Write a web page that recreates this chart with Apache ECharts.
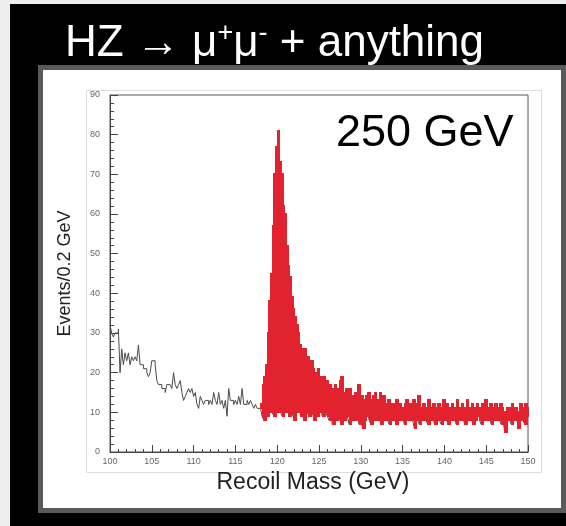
<!DOCTYPE html>
<html>
<head>
<meta charset="utf-8">
<script src="https://cdn.jsdelivr.net/npm/echarts@6/dist/echarts.min.js"></script>
<style>
  html, body { margin: 0; padding: 0; background: #000; }
  #chart { width: 566px; height: 526px; }
</style>
</head>
<body>
<div id="chart"></div>
<script>
// recoil mass histogram, 0.2 GeV bins between 100 and 150 GeV
const massMin = 100
const massMax = 150
const binWidth = 0.2

// background, one value per bin (250 bins) - black line
const background = [
  32, 30, 29, 30, 30, 31, 20, 26, 22, 25,
  23, 25, 22, 24, 23, 24, 23, 27, 22, 22,
  21, 21, 20, 19, 20, 23, 23, 22, 18, 17,
  17, 16, 16, 15, 17, 17, 17, 16, 20, 17,
  16, 17, 18, 15, 13, 14, 15, 16, 15, 16,
  14, 15, 12, 11, 14, 13, 12, 13, 13, 12,
  13, 12, 15, 13, 12, 15, 12, 13, 11, 13,
  9, 16, 13, 13, 12, 13, 12, 14, 12, 16,
  12, 12, 13, 12, 13, 12, 11, 12, 11, 11,
  11, 9, 8, 10, 9, 10, 12, 10, 9, 11,
  10, 12, 10, 9, 12, 10, 11, 9, 12, 10,
  8, 11, 10, 12, 9, 10, 8, 11, 10, 9,
  11, 10, 8, 12, 9, 10, 11, 9, 12, 10,
  9, 8, 10, 7, 9, 8, 10, 9, 7, 9,
  8, 10, 9, 7, 9, 8, 10, 8, 9, 7,
  9, 6, 8, 9, 10, 8, 7, 9, 8, 10,
  8, 9, 7, 9, 8, 10, 8, 7, 9, 8,
  9, 7, 8, 10, 8, 9, 7, 8, 9, 8,
  10, 8, 6, 9, 8, 7, 9, 8, 10, 8,
  7, 9, 8, 10, 7, 8, 9, 8, 7, 9,
  8, 9, 7, 8, 10, 8, 9, 7, 8, 9,
  8, 10, 7, 9, 8, 8, 9, 7, 8, 9,
  9, 8, 7, 9, 8, 10, 8, 9, 7, 8,
  9, 8, 10, 8, 7, 9, 5, 8, 9, 8,
  7, 9, 8, 10, 6, 8, 9, 8, 7, 9
]

// signal + background from 118 GeV on (bins 90..249) - red, filled down to the background
const signalFirstBin = 90
const signalPlusBkg = [
  12, 17, 19, 22, 30, 38, 45, 57, 70, 77,
  81, 73, 70, 62, 60, 52, 47, 44, 39, 36,
  34, 32, 30, 27, 26, 25, 26, 23, 24, 22,
  23, 21, 20, 19, 21, 19, 18, 19, 17, 18,
  16, 17, 15, 16, 17, 15, 16, 18, 19, 15,
  14, 16, 15, 16, 14, 13, 15, 14, 17, 13,
  14, 13, 12, 14, 15, 13, 12, 14, 15, 12,
  13, 15, 12, 14, 11, 12, 13, 11, 12, 11,
  12, 13, 11, 12, 11, 10, 12, 13, 11, 12,
  11, 13, 11, 12, 14, 11, 10, 12, 11, 11,
  13, 11, 10, 12, 11, 10, 12, 11, 11, 13,
  11, 12, 11, 10, 12, 11, 10, 13, 11, 10,
  12, 11, 10, 13, 11, 10, 12, 11, 10, 12,
  11, 10, 12, 11, 13, 10, 11, 12, 10, 11,
  12, 10, 11, 12, 11, 10, 10, 11, 10, 11,
  12, 10, 11, 10, 10, 12, 11, 10, 12, 11
]

const titleRich = '{n|HZ \u2192 \u03bc}{s|+}{n|\u03bc}{s|-}{n| + anything}'
const energyLabel = '250 GeV'
const xName = 'Recoil Mass (GeV)'
const yName = 'Events/0.2 GeV'

const red = '#e2222f'
const font = 'Liberation Sans, Arial, Helvetica, sans-serif'

// black step line: left edge of every bin, plus the closing edge at 150
const bkgLine = background.map((v, i) => [massMin + i * binWidth, v])
bkgLine.push([massMax, background[background.length - 1]])

// red band between background and signal+background
const band = signalPlusBkg.map((v, k) => {
  const i = signalFirstBin + k
  return [massMin + i * binWidth, background[i], v]
})

const chart = echarts.init(document.getElementById('chart'))
chart.setOption({
  backgroundColor: '#000',
  animation: false,
  graphic: [
    { type: 'rect', z: -20, shape: { x: 0, y: 0, width: 10, height: 526 }, style: { fill: '#eeeeec' } },
    { type: 'rect', z: -20, shape: { x: 0, y: 0, width: 566, height: 4 }, style: { fill: '#eeeeec' } },
    { type: 'rect', z: -15, shape: { x: 40.5, y: 67.5, width: 523, height: 443 },
      style: { fill: '#fff', stroke: '#5a5a5a', lineWidth: 5 } },
    { type: 'rect', z: -12, shape: { x: 86.5, y: 90.5, width: 455, height: 382 },
      style: { fill: 'none', stroke: '#dedede', lineWidth: 1 } },
    { type: 'text', z: 10, x: 65, y: 20,
      style: { text: titleRich, fill: '#fff',
        rich: {
          n: { fontSize: 44, fontFamily: font, fill: '#fff', lineHeight: 48 },
          s: { fontSize: 27, fontFamily: font, fill: '#fff', verticalAlign: 'top', lineHeight: 48 }
        } } },
    { type: 'text', z: 10, x: 336, y: 111,
      style: { text: energyLabel, fill: '#000', font: '45px ' + font } }
  ],
  grid: {
    left: 110, top: 95, width: 418, height: 357,
    show: true, borderColor: '#555', borderWidth: 1, backgroundColor: 'transparent'
  },
  xAxis: {
    type: 'value', min: massMin, max: massMax, interval: 5,
    name: xName, nameLocation: 'middle', nameGap: 18,
    nameTextStyle: { fontSize: 23, color: '#222', fontFamily: font, padding: [0, 12, 0, 0] },
    axisLine: { lineStyle: { color: '#444' } },
    axisTick: { inside: true, length: 7, lineStyle: { color: '#444' } },
    minorTick: { show: true, splitNumber: 5, length: 3, lineStyle: { color: '#444' } },
    axisLabel: { fontSize: 9, color: '#666', margin: 5, fontFamily: font },
    splitLine: { show: false }
  },
  yAxis: {
    type: 'value', min: 0, max: 90, interval: 10,
    name: yName, nameLocation: 'middle', nameGap: 36,
    nameTextStyle: { fontSize: 18, color: '#222', fontFamily: font },
    axisLine: { show: true, lineStyle: { color: '#444' } },
    axisTick: { show: true, inside: true, length: 8, lineStyle: { color: '#444' } },
    minorTick: { show: true, splitNumber: 5, length: 4, lineStyle: { color: '#444' } },
    axisLabel: { fontSize: 9, color: '#666', margin: 10, fontFamily: font },
    splitLine: { show: false }
  },
  series: [
    {
      name: 'background', type: 'line', step: 'end', data: bkgLine,
      showSymbol: false, symbol: 'none', z: 2,
      lineStyle: { color: '#4a4a4a', width: 1 }
    },
    {
      name: 'signal + background', type: 'custom', z: 3,
      encode: { x: 0, y: [1, 2] },
      data: band,
      renderItem: function (params, api) {
        const x0 = api.value(0)
        const lo = Math.min(api.value(1), api.value(2))
        const hi = Math.max(api.value(1), api.value(2))
        const p0 = api.coord([x0, hi])
        const p1 = api.coord([x0 + binWidth, lo])
        // whole pixels, overlapping the neighbour a little so the fill has no seams,
        // and one pixel past each end so the black line underneath is covered
        const left = Math.floor(p0[0])
        const right = Math.ceil(p1[0]) + 1
        const top = Math.round(p0[1]) - 1
        const bottom = Math.round(p1[1]) + 1
        return {
          type: 'rect',
          shape: { x: left, y: top, width: right - left, height: bottom - top },
          style: { fill: red, stroke: null }
        }
      }
    }
  ]
})
</script>
</body>
</html>
